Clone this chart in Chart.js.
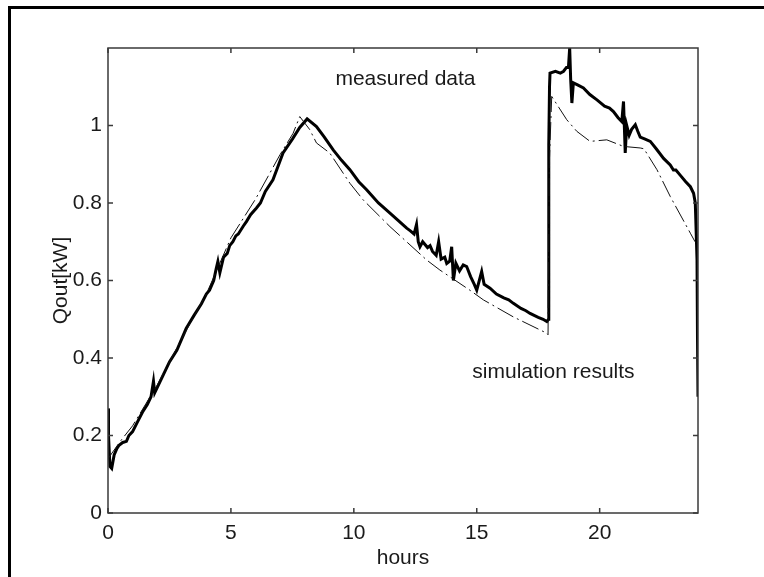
<!DOCTYPE html>
<html>
<head>
<meta charset="utf-8">
<script src="https://cdn.jsdelivr.net/npm/chart.js@4/dist/chart.umd.min.js"></script>
<style>
  html, body { margin: 0; padding: 0; background: #fff; }
  #wrap { position: relative; width: 764px; height: 577px; }
  #frame { position: absolute; left: 8px; top: 6px; right: 0; bottom: 0;
           border-left: 3px solid #000; border-top: 3px solid #000; pointer-events: none; }
</style>
</head>
<body>
<div id="wrap">
  <canvas id="grafica"></canvas>
  <div id="frame"></div>
</div>
<script>
// valores (horas, kW)
const measuredX = [0, 0.02, 0.08, 0.15, 0.25, 0.35, 0.45, 0.6, 0.75, 0.85, 1.0, 1.2, 1.4, 1.6, 1.75, 1.85, 1.9, 2.2, 2.5, 2.8,
  3.18, 3.5, 3.8, 4.0, 4.13, 4.3, 4.4, 4.47, 4.55, 4.7, 4.85, 4.95, 5.08, 5.2, 5.3, 5.5, 5.63, 5.8, 6.04, 6.2, 6.4, 6.71, 7.12,
  7.5, 7.8, 8.1, 8.48, 8.8, 9.16, 9.5, 9.84, 10.2, 10.52, 11.0, 11.47, 11.8, 12.15, 12.3, 12.45, 12.55, 12.62, 12.69, 12.8,
  13.0, 13.1, 13.2, 13.35, 13.45, 13.55, 13.7, 13.78, 13.9, 13.98, 14.05, 14.15, 14.3, 14.45, 14.59, 14.75, 14.9, 15.0, 15.2, 15.3, 15.54,
  15.8, 16.1, 16.3, 16.49, 16.8, 17.0, 17.17, 17.5, 17.7, 17.85, 17.92, 17.93, 17.96, 17.98, 18.2, 18.4, 18.53, 18.65, 18.73, 18.78, 18.82, 18.87,
  18.93, 19.1, 19.34, 19.6, 19.89, 20.2, 20.4, 20.56, 20.75, 20.9, 20.97, 21.04, 21.1, 21.2, 21.3, 21.45, 21.55, 21.65, 21.85, 22.06, 22.3,
  22.6, 22.87, 23.0, 23.1, 23.3, 23.5, 23.69, 23.82, 23.89, 23.96, 23.98, 24.0];
const measuredY = [0.27, 0.2, 0.12, 0.115, 0.15, 0.165, 0.175, 0.182, 0.185, 0.2, 0.21, 0.235, 0.26, 0.28, 0.3, 0.34, 0.31, 0.35, 0.39, 0.42,
  0.476, 0.51, 0.54, 0.565, 0.575, 0.6, 0.63, 0.649, 0.62, 0.66, 0.67, 0.69, 0.70, 0.715, 0.72, 0.74, 0.752, 0.77, 0.787, 0.80, 0.83, 0.86, 0.929,
  0.965, 0.995, 1.017, 0.997, 0.97, 0.937, 0.91, 0.886, 0.855, 0.834, 0.80, 0.774, 0.755, 0.735, 0.728, 0.72, 0.745, 0.70, 0.687, 0.70,
  0.685, 0.69, 0.675, 0.665, 0.70, 0.655, 0.66, 0.644, 0.65, 0.687, 0.60, 0.645, 0.625, 0.64, 0.636, 0.61, 0.59, 0.575, 0.623, 0.59, 0.58,
  0.565, 0.555, 0.55, 0.541, 0.528, 0.522, 0.515, 0.505, 0.50, 0.494, 0.5, 0.95, 1.1, 1.135, 1.14, 1.135, 1.14, 1.15, 1.15, 1.2, 1.12, 1.058,
  1.11, 1.105, 1.097, 1.08, 1.066, 1.05, 1.045, 1.036, 1.02, 1.01, 1.062, 0.929, 1.0, 0.975, 0.99, 1.002, 0.985, 0.97, 0.965, 0.959, 0.94,
  0.915, 0.898, 0.885, 0.885, 0.87, 0.855, 0.842, 0.825, 0.80, 0.653, 0.45, 0.30];

const simX = [0, 0.5, 1, 2, 3, 4, 5, 6, 7, 7.53, 7.8, 8.2, 8.48, 9.02, 9.84, 10.38, 11.47, 12.96, 13.5, 14.72,
  15.27, 16.49, 17.85, 17.9, 17.95, 18.05, 18.66, 19.07, 19.61, 20.29, 20.97, 21.65, 21.8, 22.33, 22.87, 23.69, 23.88];
const simY = [0.14, 0.185, 0.225, 0.33, 0.45, 0.565, 0.71, 0.81, 0.925, 0.98, 1.023, 0.99, 0.955, 0.929, 0.851, 0.808, 0.739, 0.653, 0.627, 0.575,
  0.55, 0.506, 0.464, 0.46, 0.9, 1.075, 1.015, 0.985, 0.959, 0.963, 0.946, 0.942, 0.94, 0.886, 0.817, 0.722, 0.70];

const xTicks = [0, 5, 10, 15, 20];
const yTicks = [0, 0.2, 0.4, 0.6, 0.8, 1];

const textoMedido = 'measured data';
const textoSimulado = 'simulation results';

const fuente = '"Liberation Sans", Arial, Helvetica, sans-serif';

// marco del eje con marcas hacia adentro y textos dentro del grafico
const marcoPlugin = {
  id: 'marco',
  afterDraw(chart) {
    const { ctx, chartArea: a, scales } = chart;
    const x = scales.x, y = scales.y;
    const largo = 5;
    ctx.save();
    ctx.strokeStyle = '#3a3a3a';
    ctx.lineWidth = 1.5;
    ctx.strokeRect(a.left, a.top, a.right - a.left, a.bottom - a.top);
    ctx.beginPath();
    xTicks.forEach(v => {
      const px = x.getPixelForValue(v);
      ctx.moveTo(px, a.bottom); ctx.lineTo(px, a.bottom - largo);
      ctx.moveTo(px, a.top); ctx.lineTo(px, a.top + largo);
    });
    yTicks.forEach(v => {
      const py = y.getPixelForValue(v);
      ctx.moveTo(a.left, py); ctx.lineTo(a.left + largo, py);
      ctx.moveTo(a.right, py); ctx.lineTo(a.right - largo, py);
    });
    ctx.stroke();

    ctx.fillStyle = '#1a1a1a';
    ctx.font = '21px ' + fuente;
    ctx.textAlign = 'center';
    ctx.textBaseline = 'alphabetic';
    ctx.fillText(textoMedido, x.getPixelForValue(12.1), y.getPixelForValue(1.104));
    ctx.fillText(textoSimulado, x.getPixelForValue(18.12), y.getPixelForValue(0.348));
    ctx.restore();
  }
};

const ctx = document.getElementById('grafica').getContext('2d');
new Chart(ctx, {
  type: 'scatter',
  data: {
    datasets: [{
      label: 'simulation results',
      data: simX.map((v, i) => ({ x: v, y: simY[i] })),
      showLine: true,
      borderColor: '#111',
      borderWidth: 1,
      borderDash: [18, 4, 2, 4],
      pointRadius: 0,
      tension: 0
    }, {
      label: 'measured data',
      data: measuredX.map((v, i) => ({ x: v, y: measuredY[i] })),
      showLine: true,
      borderColor: '#000',
      borderWidth: 3,
      pointRadius: 0,
      tension: 0
    }]
  },
  options: {
    responsive: true,
    maintainAspectRatio: false,
    animation: false,
    layout: { padding: { left: 0, top: 48, right: 66, bottom: 0 } },
    plugins: {
      legend: { display: false },
      tooltip: { enabled: false }
    },
    scales: {
      x: {
        type: 'linear',
        min: 0,
        max: 24,
        afterBuildTicks: s => { s.ticks = xTicks.map(v => ({ value: v })); },
        afterFit: s => { s.height = 64; },
        grid: { display: false, drawTicks: false },
        border: { display: false },
        ticks: { color: '#1a1a1a', padding: 8, font: { family: fuente, size: 21 }, maxRotation: 0 },
        title: { display: true, text: 'hours', color: '#1a1a1a', font: { family: fuente, size: 21 }, padding: { top: 0, bottom: 6 } }
      },
      y: {
        type: 'linear',
        min: 0,
        max: 1.2,
        afterBuildTicks: s => { s.ticks = yTicks.map(v => ({ value: v })); },
        afterFit: s => { s.width = 108; },
        grid: { display: false, drawTicks: false },
        border: { display: false },
        ticks: { color: '#1a1a1a', padding: 6, font: { family: fuente, size: 21 }, callback: v => String(+v.toFixed(1)) },
        title: { display: true, text: 'Qout[kW]', color: '#1a1a1a', font: { family: fuente, size: 21 }, padding: { top: 49, bottom: 0 } }
      }
    }
  },
  plugins: [marcoPlugin]
});
</script>
</body>
</html>
